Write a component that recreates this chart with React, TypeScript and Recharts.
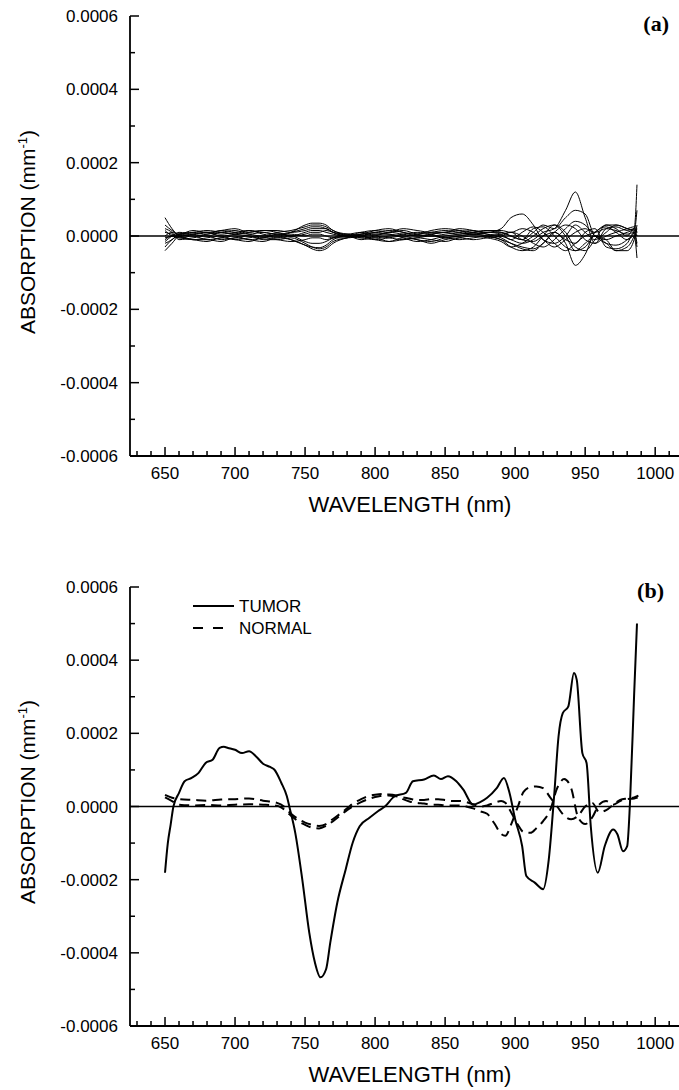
import React from 'react';
import { LineChart, Line, XAxis, YAxis, ReferenceLine, Legend } from 'recharts';

// ---------- axes (values in units of 1e-5 mm^-1) ----------
const xTicks = [630, 640, 650, 660, 670, 680, 690, 700, 710, 720, 730, 740, 750, 760, 770, 780, 790, 800, 810, 820, 830, 840, 850, 860, 870, 880, 890, 900, 910, 920, 930, 940, 950, 960, 970, 980, 990, 1000, 1010];
const yTicks = [-60, -50, -40, -30, -20, -10, 0, 10, 20, 30, 40, 50, 60];
const xDomain = [625, 1017];
const yDomain = [-60, 60];

// ---------- panel (a): individual difference spectra ----------
const wavelengthsA = [650, 655, 660, 670, 680, 690, 700, 710, 720, 730, 740, 750, 755, 760, 765, 770, 780, 790, 800, 810, 820, 830, 840, 850, 860, 870, 880, 890, 897, 905, 913, 920, 928, 936, 943, 950, 957, 965, 972, 980, 985, 987];
const specA1 = [0, 1, 0.5, 1, 0.5, 1.5, 1, 0.5, 1, 0.5, 1, 2, 2.5, 2.5, 2, 1, 0, 0.5, 1, 1.5, 1, 0, 0.5, 1, 1.5, 1, 0.5, 0, -1, -2, -1, 1, 2, 7, 12, 5, -2, 2, 2.5, 1.5, 2, 0];
const specA2 = [-1, 0, -0.5, 0, -1, -0.5, 0, -1, -0.5, 0, -1, -2.5, -3, -3.2, -2.5, -1, 0, -0.5, -1, -0.5, 0, -1, -1.5, -0.5, 0, 0.5, 0, -1, -2, -3, -3.5, -2, 1, -2, -8, -5, 1, 2.5, 1, -1, 0, -6];
const specA3 = [1, 0.5, 0, 0.5, 1, 0, 0.5, 1.5, 0.5, 0, 1, 3, 3.5, 3.5, 3, 1.5, 0.5, 0, 1, 0.5, 0, 0.5, 1, 1.5, 1, 0.5, 1, 1, 0, -1, 1, 3, 2, 5, 7, 6, 0, -1, 0, 1, 2, 14];
const specA4 = [-0.5, 0, 0.5, 0, 0.5, 1, 0.5, 0, -0.5, 0.5, 0, 1, 1.5, 1.5, 1, 0.5, 0, 1, 1.5, 1, 1.5, 0.5, 0, 0.5, 1, 1.5, 1, 2, 5, 6, 3, -1, -2, 0, 3, 1, -1, 1, 3, 2, 1, 0];
const specA5 = [5, 2, 0, -1, -0.5, 0, -1, -0.5, 0, -0.5, 0, -1.5, -2, -2, -1.5, -0.5, 0.5, 0, -0.5, 0, 0.5, 1, 0.5, -0.5, 0, 0.5, 0, -1, -3, -4, -3, 0, 3, 1, -3, -4, -1, 3, 3, 2, 1.5, 1];
const specA6 = [-4, -2, 0, 0.5, 1, 0.5, 1, 1.5, 1, 0.5, 0.5, 0, 0.5, 0.5, 0, -0.5, -0.5, 0, 0.5, 0.5, -0.5, -1.5, -1, 0, 0.5, 1, 1.5, 1, 0, -1, 2, 2.5, 0, -3, -4, -2, 0, -2, -4, -3, 0, 2];
const specA7 = [2, 1, -1, -0.5, 0, -1, -0.5, 0, -1, -1, -0.5, -2, -3, -3.5, -3, -1.5, -0.5, 0.5, 0, -0.5, -1, -0.5, 0, -0.5, -1, -0.5, 0, 0.5, 1, 0, -2, -3, -1, 2, 4, 3, 0, -2, -2.5, -1, 1, 7];
const specA8 = [-2, -1, 0.5, 1, 1.5, 1, 0.5, 1, 1.5, 1, 0, 0.5, 1, 1, 1.5, 1, 0.5, 1, 0.5, 1, 2, 1.5, 1, 1, 2, 1.5, 0.5, -0.5, -2, -3.5, -4, -2, 1, 3, 2, -1, -2, 0, 1, 2, 2.5, 1];
const specA9 = [1.5, 0, -0.5, -1, -1.5, -0.5, -1, -1.5, -0.5, -1, -1.5, -1, -0.5, -0.5, -1, -0.5, 0, -1, -0.5, -1.5, -1, -0.5, -1, -1.5, -0.5, 0, -0.5, -1.5, -3, -2, 0, 2, 3, 0, -4, -3, 0, -1, -4, -4, -1, 3];
const specA10 = [-1.5, 0, 1, 0.5, 0, 1, 1.5, 0.5, 0, 1, 1.5, 2.5, 3, 3, 2.5, 1.5, 0, -0.5, 0, 1, 0.5, 0, 0.5, 1, 0.5, 1, 1.5, 1.5, 1, 2, 1, -1, -3, -1, 1, 2, 1, 2, 1.5, 0.5, 1, -2];
const specA11 = [3, 1.5, 0.5, 1.5, 1, 1.5, 2, 1, 1.5, 1.5, 1, 1.5, 2, 2, 2, 1, 0, 0.5, 1.5, 2, 1, 0.5, 1.5, 2, 1.5, 0.5, 1, 0.5, -1, 1, 2.5, 1, -2, -4, -2, 0, 1, 3, 2, 0, 2, 1];
const specA12 = [-3, -1, 0, -1, -1, -1.5, -0.5, -1, -1.5, -0.5, -1, -2.5, -3.5, -4, -3.5, -2, -0.5, 0, -1, -1.5, -0.5, -1, -2, -1, -0.5, -1, -0.5, 0, 1, -1, -1.5, 0, 1, -1, -2, 1, 2, -3, -3.5, -2, 1, -3];
const seriesA = [specA1, specA2, specA3, specA4, specA5, specA6, specA7, specA8, specA9, specA10, specA11, specA12];
const seriesKeysA = seriesA.map((_, i) => `s${i + 1}`);

const tableA = wavelengthsA.map((wl, i) => {
  const row: Record<string, number> = { wl };
  seriesA.forEach((s, k) => { row[seriesKeysA[k]] = s[i]; });
  return row;
});

// ---------- panel (b): TUMOR vs NORMAL ----------
const tumorWl = [650, 652, 654, 656, 660, 664, 669, 674, 679, 684, 689, 692, 695, 700, 705, 710, 715, 720, 725, 728, 733, 737, 739, 743, 748, 753, 757, 761, 765, 768, 773, 779, 784, 789, 796, 802, 807, 814, 822, 827, 835, 842, 847, 852, 858, 863, 870, 875, 880, 887, 892, 896, 900, 905, 908, 914, 920, 924, 928, 931, 934, 938, 942, 944, 948, 951, 954, 959, 964, 970, 973, 977, 980, 982, 985, 987];
const tumorVals = [-18.1, -10, -5, 0, 3.7, 6.9, 7.8, 9.2, 11.9, 12.8, 16.0, 16.3, 16.0, 15.5, 14.6, 15.1, 13.7, 11.7, 10.8, 10.1, 6.5, 2.8, -0.4, -7.2, -19.9, -34.5, -42.6, -46.7, -44.5, -37.2, -26.3, -17.2, -9.9, -5.4, -3.1, -1.3, 0, 2.8, 3.7, 6.9, 7.4, 8.5, 7.5, 8.3, 6.9, 4.6, 0.5, 1.2, 2.4, 5.1, 7.8, 3.7, -3.5, -10.8, -19.0, -20.8, -22.6, -14.5, 3.7, 19.2, 25.5, 27.4, 36.5, 34.6, 14.6, 11.9, -5.4, -18.1, -10.8, -6.3, -7.6, -12.2, -10.8, 1.0, 31, 50];

const normalWl = [650, 655, 660, 670, 680, 690, 700, 710, 720, 730, 735, 740, 745, 750, 755, 760, 765, 770, 775, 780, 785, 790, 795, 800, 805, 810, 815, 820, 825, 830, 835, 840, 845, 850, 855, 860, 865, 870, 875, 880, 885, 890, 893, 897, 902, 906, 911, 915, 920, 925, 930, 935, 940, 945, 950, 955, 960, 965, 970, 975, 980, 985, 988];
const normalValsA = [3.2, 2.4, 2.0, 1.8, 1.6, 1.9, 2.0, 2.2, 1.6, 1.0, 0.0, -2.0, -3.4, -4.4, -5.0, -5.3, -4.8, -3.4, -2.0, -0.5, 1.0, 2.0, 2.8, 3.2, 3.4, 3.0, 2.8, 2.5, 2.1, 1.8, 1.8, 2.0, 2.0, 1.8, 1.5, 1.5, 1.2, 0.6, 0.0, 0.3, 1.0, 1.5, 1.0, -1.5, -5.0, -7.0, -7.2, -6.0, -4.0, -1.0, 5.0, 7.5, 5.0, -3.0, -4.8, -3.0, 0.5, 1.5, 0.5, 1.5, 2.0, 2.2, 2.5];
const normalValsB = [2.5, 1.5, 0.5, 0.3, 0.4, 0.3, 0.5, 0.6, 0.5, 0.2, -0.8, -2.5, -4.0, -5.0, -5.8, -6.0, -5.3, -4.0, -2.5, -1.0, 0.2, 1.2, 2.0, 2.6, 3.0, 3.3, 3.0, 2.0, 1.3, 1.0, 0.8, 0.5, 0.5, 0.3, 0.3, 0.3, 0.0, -0.5, -1.3, -2.0, -4.5, -7.5, -8.0, -5.0, 0.0, 4.0, 5.3, 5.5, 5.0, 2.5, 0.0, -2.5, -3.5, -2.5, 0.0, 1.0, -1.5, -1.0, 0.5, 1.8, 2.2, 2.5, 3.0];

const tumorData = tumorWl.map((wl, i) => ({ wl, v: tumorVals[i] }));
const normalDataA = normalWl.map((wl, i) => ({ wl, v: normalValsA[i] }));
const normalDataB = normalWl.map((wl, i) => ({ wl, v: normalValsB[i] }));

// ---------- styling ----------
const FONT = "'Liberation Sans', Arial, Helvetica, sans-serif";
const SERIF = "'Liberation Serif', 'Times New Roman', serif";

function XTick(props: any) {
  const { x, y, payload } = props;
  const v = payload.value;
  const major = v % 50 === 0;
  return (
    <g>
      <line x1={x} x2={x} y1={y} y2={y - (major ? 9 : 5)} stroke="#000" strokeWidth={1.5} />
      {major && (
        <text x={x} y={y + 23} textAnchor="middle" fontSize={17} fontFamily={FONT} fill="#000">
          {v}
        </text>
      )}
    </g>
  );
}

function YTick(props: any) {
  const { x, y, payload } = props;
  const v = payload.value;
  const major = Math.round(v) % 20 === 0;
  return (
    <g>
      <line x1={x} x2={x + (major ? 9 : 5)} y1={y} y2={y} stroke="#000" strokeWidth={1.5} />
      {major && (
        <text x={x - 12} y={y + 6} textAnchor="end" fontSize={17} fontFamily={FONT} fill="#000">
          {(v / 100000).toFixed(4)}
        </text>
      )}
    </g>
  );
}

function makeYLabel(cy: number, tag: string, tagX: number, tagY: number) {
  return () => (
    <g>
      <text
        x={35}
        y={cy}
        transform={`rotate(-90 35 ${cy})`}
        textAnchor="middle"
        fontSize={21}
        fontFamily={FONT}
        fill="#000"
      >
        ABSORPTION (mm<tspan fontSize={13} dy={-8}>-1</tspan>
        <tspan dy={8}>)</tspan>
      </text>
      <text x={tagX} y={tagY} textAnchor="end" fontSize={22} fontWeight="bold" fontFamily={SERIF} fill="#000">
        {tag}
      </text>
    </g>
  );
}

function makeXLabel(y: number) {
  return () => (
    <text x={410} y={y} textAnchor="middle" fontSize={22} fontFamily={FONT} fill="#000">
      WAVELENGTH (nm)
    </text>
  );
}

function LegendBox() {
  return (
    <svg width={220} height={50}>
      <line x1={13} x2={54} y1={11} y2={11} stroke="#000" strokeWidth={2} />
      <text x={59} y={17} fontSize={17} fontFamily={FONT} fill="#000">TUMOR</text>
      <line x1={13} x2={43} y1={33} y2={33} stroke="#000" strokeWidth={2} strokeDasharray="10 10" />
      <text x={59} y={39} fontSize={17} fontFamily={FONT} fill="#000">NORMAL</text>
    </svg>
  );
}

const axisLineStyle = { stroke: '#000', strokeWidth: 1.8 };

export default function App() {
  return (
    <div style={{ position: 'absolute', left: 0, top: 0, width: 679, height: 1090, background: '#fff' }}>
      {/* Panel (a) */}
      <LineChart width={679} height={545} data={tableA} margin={{ top: 16, right: 0, bottom: 0, left: 0 }}>
        <XAxis
          type="number"
          dataKey="wl"
          domain={xDomain}
          ticks={xTicks}
          interval={0}
          allowDataOverflow
          tickLine={false}
          tickSize={0}
          tickMargin={0}
          tick={XTick}
          axisLine={axisLineStyle}
          height={89}
          label={{ content: makeXLabel(512) }}
        />
        <YAxis
          type="number"
          domain={yDomain}
          ticks={yTicks}
          interval={0}
          allowDataOverflow
          tickLine={false}
          tickSize={0}
          tickMargin={0}
          tick={YTick}
          axisLine={axisLineStyle}
          width={130}
          label={{ content: makeYLabel(232, '(a)', 669, 31) }}
        />
        <ReferenceLine y={0} stroke="#000" strokeWidth={1.3} />
        {seriesKeysA.map((k) => (
          <Line
            key={k}
            type="monotone"
            dataKey={k}
            stroke="#000"
            strokeWidth={1}
            dot={false}
            isAnimationActive={false}
          />
        ))}
      </LineChart>

      {/* Panel (b) */}
      <LineChart width={679} height={545} margin={{ top: 42, right: 0, bottom: 0, left: 0 }}>
        <XAxis
          type="number"
          dataKey="wl"
          domain={xDomain}
          ticks={xTicks}
          interval={0}
          allowDataOverflow
          tickLine={false}
          tickSize={0}
          tickMargin={0}
          tick={XTick}
          axisLine={axisLineStyle}
          height={64}
          label={{ content: makeXLabel(537) }}
        />
        <YAxis
          type="number"
          domain={yDomain}
          ticks={yTicks}
          interval={0}
          allowDataOverflow
          tickLine={false}
          tickSize={0}
          tickMargin={0}
          tick={YTick}
          axisLine={axisLineStyle}
          width={130}
          label={{ content: makeYLabel(257, '(b)', 664, 53) }}
        />
        <ReferenceLine y={0} stroke="#000" strokeWidth={1.3} />
        <Legend
          layout="horizontal"
          verticalAlign="middle"
          align="center"
          wrapperStyle={{ left: 180, top: 50, width: 220, height: 50 }}
          content={() => <LegendBox />}
        />
        <Line
          data={normalDataA}
          type="monotone"
          dataKey="v"
          name="NORMAL"
          stroke="#000"
          strokeWidth={2}
          strokeDasharray="10 6"
          dot={false}
          isAnimationActive={false}
        />
        <Line
          data={normalDataB}
          type="monotone"
          dataKey="v"
          name="NORMAL "
          stroke="#000"
          strokeWidth={2}
          strokeDasharray="10 6"
          dot={false}
          legendType="none"
          isAnimationActive={false}
        />
        <Line
          data={tumorData}
          type="monotone"
          dataKey="v"
          name="TUMOR"
          stroke="#000"
          strokeWidth={2}
          dot={false}
          isAnimationActive={false}
        />
      </LineChart>
    </div>
  );
}
